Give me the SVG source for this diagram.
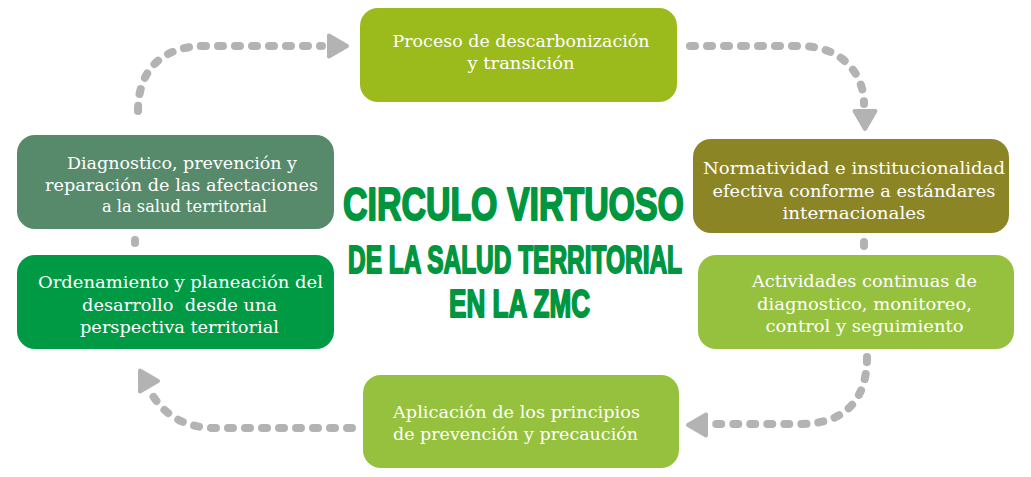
<svg xmlns="http://www.w3.org/2000/svg" xmlns:xlink="http://www.w3.org/1999/xlink" width="1031" height="477" viewBox="0 0 1031 477">
<style>
.box{stroke:none}
.lbl{font-family:"DejaVu Serif","Liberation Serif",serif;font-size:17.5px;fill:#ffffff;text-anchor:middle}
.lbl-start{text-anchor:start}
.title{font-family:"Liberation Sans","DejaVu Sans",Arial,sans-serif;font-weight:bold;fill:#009640;stroke:#009640;stroke-width:2px;stroke-linejoin:round}
.dash{fill:none;stroke:#b3b3b3;stroke-width:8;stroke-linecap:round;stroke-dasharray:5 12}
.dot{fill:none;stroke:#b3b3b3;stroke-width:8;stroke-linecap:round}
.head{fill:#b3b3b3;stroke:#b3b3b3;stroke-width:4;stroke-linejoin:round}
</style>
<defs>
<path id="ah" d="M0,-10.5 L18,0 L0,10.5 Z"/>
</defs>
<rect width="1031" height="477" fill="#ffffff"/>

<g id="connectors">
<path class="dash" d="M138,111 C138,72 160,46 205,46 L322,46"/>
<use xlink:href="#ah" class="head" transform="translate(329,46)"/>
<path class="dash" d="M690,46 L800,46 C840,46 864,72 864,104"/>
<use xlink:href="#ah" class="head" transform="translate(865,111) rotate(90)"/>
<line class="dot" x1="864" y1="242" x2="864" y2="246"/>
<path class="dash" d="M867,357 C867,400 845,424 800,424 L712,424"/>
<use xlink:href="#ah" class="head" transform="translate(706,425) rotate(180)"/>
<path class="dash" d="M352,428 L215,428 C185,428 165,415 153,396"/>
<use xlink:href="#ah" class="head" transform="translate(140,381)"/>
<line class="dot" x1="135" y1="240" x2="135" y2="243"/>
</g>

<g id="node-descarbonizacion">
<rect class="box" x="360" y="8" width="317" height="94" rx="18" fill="#9bba1b"/>
<text class="lbl" x="521" y="47" textLength="257" lengthAdjust="spacingAndGlyphs">Proceso de descarbonización</text>
<text class="lbl" x="521" y="69" textLength="107" lengthAdjust="spacingAndGlyphs">y transición</text>
</g>

<g id="node-normatividad">
<rect class="box" x="693" y="139" width="316" height="94" rx="18" fill="#8c8526"/>
<text class="lbl" x="854" y="174" textLength="302" lengthAdjust="spacingAndGlyphs">Normatividad e institucionalidad</text>
<text class="lbl" x="854" y="196.5" textLength="283" lengthAdjust="spacingAndGlyphs">efectiva conforme a estándares</text>
<text class="lbl" x="854" y="219" textLength="143" lengthAdjust="spacingAndGlyphs">internacionales</text>
</g>

<g id="node-actividades">
<rect class="box" x="698" y="255" width="316" height="94" rx="18" fill="#95c13e"/>
<text class="lbl" x="864.5" y="287" textLength="225" lengthAdjust="spacingAndGlyphs">Actividades continuas de</text>
<text class="lbl" x="864.5" y="310" textLength="215" lengthAdjust="spacingAndGlyphs">diagnostico, monitoreo,</text>
<text class="lbl" x="864.5" y="332" textLength="198" lengthAdjust="spacingAndGlyphs">control y seguimiento</text>
</g>

<g id="node-aplicacion">
<rect class="box" x="363" y="375" width="316" height="93" rx="18" fill="#95c13e"/>
<text class="lbl lbl-start" x="393" y="418" textLength="247" lengthAdjust="spacingAndGlyphs">Aplicación de los principios</text>
<text class="lbl lbl-start" x="393" y="440" textLength="245" lengthAdjust="spacingAndGlyphs">de prevención y precaución</text>
</g>

<g id="node-diagnostico">
<rect class="box" x="17" y="135" width="317" height="94" rx="18" fill="#568a6b"/>
<text class="lbl" x="182" y="169" textLength="230" lengthAdjust="spacingAndGlyphs">Diagnostico, prevención y</text>
<text class="lbl" x="181.5" y="191" textLength="273" lengthAdjust="spacingAndGlyphs">reparación de las afectaciones</text>
<text class="lbl" x="184.5" y="212" textLength="165" lengthAdjust="spacingAndGlyphs">a la salud territorial</text>
</g>

<g id="node-ordenamiento">
<rect class="box" x="17" y="255" width="317" height="94" rx="18" fill="#009a45"/>
<text class="lbl" x="180.5" y="288" textLength="285" lengthAdjust="spacingAndGlyphs">Ordenamiento y planeación del</text>
<text class="lbl" x="179.5" y="311" textLength="195" lengthAdjust="spacingAndGlyphs" xml:space="preserve">desarrollo  desde una</text>
<text class="lbl" x="179.5" y="333" textLength="199" lengthAdjust="spacingAndGlyphs">perspectiva territorial</text>
</g>

<g id="title">
<text class="title" x="343" y="220" font-size="47" textLength="341" lengthAdjust="spacingAndGlyphs">CIRCULO VIRTUOSO</text>
<text class="title" x="348" y="273" font-size="38" textLength="334" lengthAdjust="spacingAndGlyphs">DE LA SALUD TERRITORIAL</text>
<text class="title" x="449" y="317" font-size="39" textLength="141" lengthAdjust="spacingAndGlyphs">EN LA ZMC</text>
</g>
</svg>
